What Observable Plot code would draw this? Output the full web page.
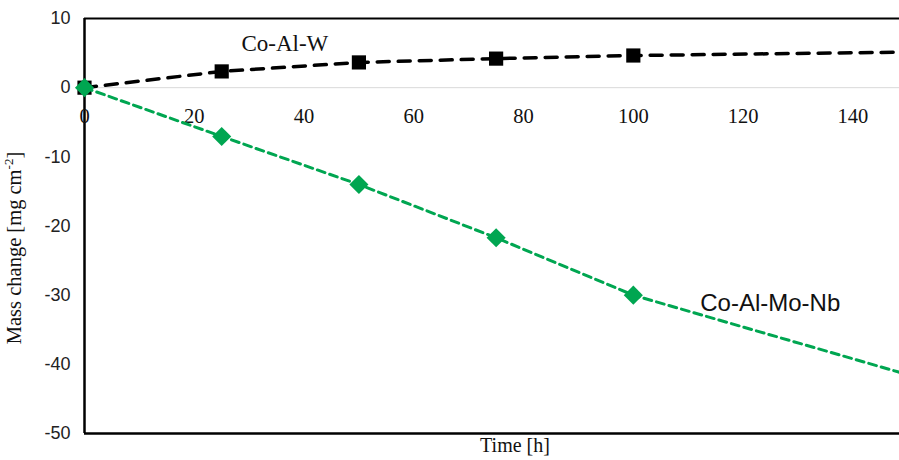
<!DOCTYPE html>
<html>
<head>
<meta charset="utf-8">
<script src="https://cdn.jsdelivr.net/npm/d3@7"></script>
<script src="https://cdn.jsdelivr.net/npm/@observablehq/plot@0.6"></script>
<style>
  html, body { margin: 0; padding: 0; background: #fff; }
  #chart { width: 899px; height: 460px; overflow: hidden; }
</style>
</head>
<body>
<div id="chart"></div>
<script>
// ---- data ----
const hours = [0, 25, 50, 75, 100, 150];
const coAlW = [0, 2.35, 3.65, 4.2, 4.65, 5.15];
const coAlMoNb = [0, -7.05, -14.0, -21.7, -30.0, -41.5];
const seriesNames = ["Co-Al-W", "Co-Al-Mo-Nb"];
const xTicks = [0, 20, 40, 60, 80, 100, 120, 140];
const yTicks = [10, 0, -10, -20, -30, -40, -50];
const xDomain = [0, 148.5];
const yDomain = [-50, 10];

const rowsW = hours.map((h, i) => ({h, v: coAlW[i]}));
const rowsM = hours.map((h, i) => ({h, v: coAlMoNb[i]}));
const markerRowsW = rowsW.filter(d => d.h <= 100);
const markerRowsM = rowsM.filter(d => d.h <= 100);

const GREEN = "#00a651";
const serif = "'Liberation Serif', 'Times New Roman', serif";
const sans = "'Liberation Sans', Arial, sans-serif";

const svg = Plot.plot({
  width: 899,
  height: 460,
  marginLeft: 84,
  marginRight: 0,
  marginTop: 18,
  marginBottom: 27,
  style: {background: "#fff", overflow: "visible"},
  x: {domain: xDomain, axis: null},
  y: {domain: yDomain, axis: null},
  marks: [
    Plot.ruleY([0], {stroke: "#d9d9d9", strokeWidth: 1}),
    Plot.ruleY([yDomain[1]], {stroke: "#000", strokeWidth: 2}),
    Plot.ruleY([yDomain[0]], {stroke: "#000", strokeWidth: 2.5}),
    Plot.ruleX([xDomain[0]], {stroke: "#000", strokeWidth: 2.5}),
    Plot.axisY(yTicks, {tickSize: 0, tickPadding: 14, fontSize: 18, fontFamily: sans, fill: "#222", label: null, tickFormat: d => String(d)}),
    Plot.text(xTicks, {x: d => d, y: 0, dy: 29, text: d => String(d), fontSize: 20.5, fontFamily: serif, fill: "#111"}),
    Plot.line(rowsW, {x: "h", y: "v", stroke: "#000", strokeWidth: 3.5, strokeDasharray: "12,9", clip: true}),
    Plot.dot(markerRowsW, {x: "h", y: "v", symbol: "square", r: 8, fill: "#000", stroke: null}),
    Plot.line(rowsM, {x: "h", y: "v", stroke: GREEN, strokeWidth: 3, strokeDasharray: "8,5", clip: true}),
    Plot.dot(markerRowsM, {x: "h", y: "v", symbol: "diamond2", r: 8.6, fill: GREEN, stroke: null}),
    Plot.text([seriesNames[0]], {x: 28.6, y: 6.4, text: d => d, textAnchor: "start", fontSize: 23, fontFamily: serif, fill: "#111"}),
    Plot.text([seriesNames[1]], {x: 112.2, y: -31.2, text: d => d, textAnchor: "start", fontSize: 24, fontFamily: sans, fill: "#111"}),
    Plot.text(["Time [h]"], {frameAnchor: "bottom", dx: 23, dy: 18, text: d => d, fontSize: 20, fontFamily: serif, fill: "#111"})
  ]
});

// rotated y-axis title with superscript
const yl = d3.select(svg).append("text")
  .attr("transform", "translate(21,248) rotate(-90)")
  .attr("text-anchor", "middle")
  .attr("font-family", serif)
  .attr("font-size", 20.5)
  .attr("fill", "#111");
yl.append("tspan").text("Mass change [mg cm");
yl.append("tspan").attr("font-size", 13).attr("dy", -8).text("-2");
yl.append("tspan").attr("dy", 8).text("]");

document.getElementById("chart").append(svg);
</script>
</body>
</html>
